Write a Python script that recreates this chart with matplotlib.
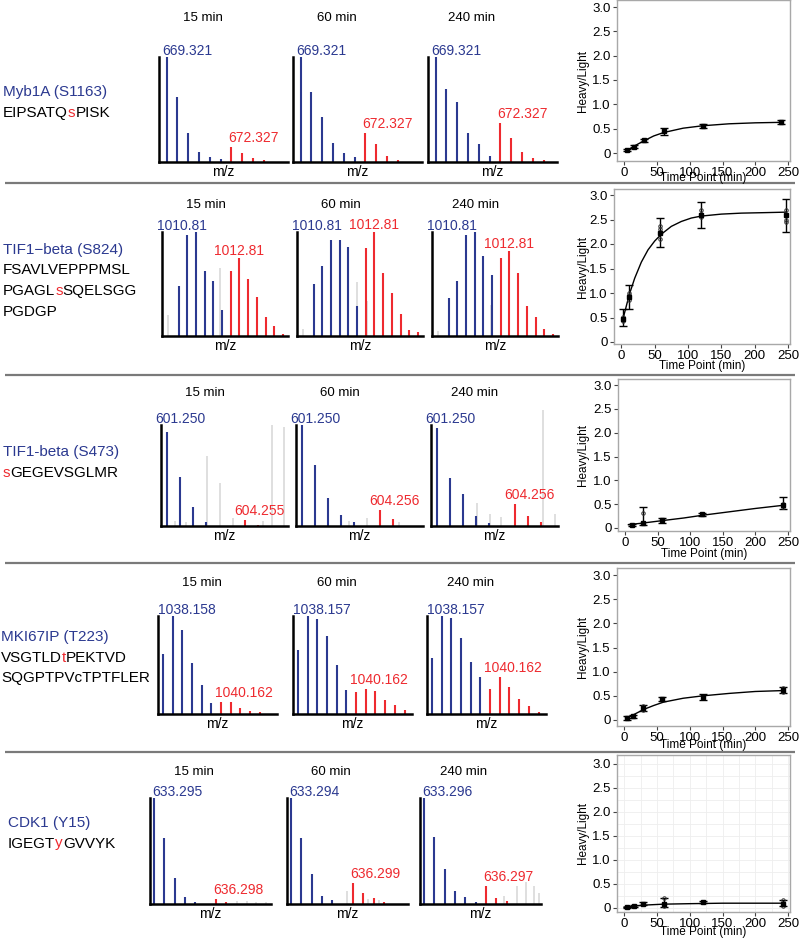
import numpy as np
import matplotlib
matplotlib.use('Agg')
import matplotlib.pyplot as plt

W, H = 800, 941
BLUE = '#2b3990'
RED = '#ee2a2f'
GRAY = '#d9d9d9'

plt.rcParams['font.family'] = 'Liberation Sans'

# ---------------- data ----------------
names = ['Myb1A (S1163)', 'TIF1\u2212beta (S824)', 'TIF1-beta (S473)',
         'MKI67IP (T223)', 'CDK1 (Y15)']
# peptide lines: (text, colour) pieces, phospho site in red
sequences = [
    [[('EIPSATQ', 'black'), ('s', RED), ('PISK', 'black')]],
    [[('FSAVLVEPPPMSL', 'black')],
     [('PGAGL', 'black'), ('s', RED), ('SQELSGG', 'black')],
     [('PGDGP', 'black')]],
    [[('s', RED), ('GEGEVSGLMR', 'black')]],
    [[('VSGTLD', 'black'), ('t', RED), ('PEKTVD', 'black')],
     [('SQGPTPVcTPTFLER', 'black')]],
    [[('IGEGT', 'black'), ('y', RED), ('GVVYK', 'black')]],
]
time_labels = ['15 min', '60 min', '240 min']
light_mz = [['669.321', '669.321', '669.321'],
            ['1010.81', '1010.81', '1010.81'],
            ['601.250', '601.250', '601.250'],
            ['1038.158', '1038.157', '1038.157'],
            ['633.295', '633.294', '633.296']]
heavy_mz = [['672.327', '672.327', '672.327'],
            ['1012.81', '1012.81', '1012.81'],
            ['604.255', '604.256', '604.256'],
            ['1040.162', '1040.162', '1040.162'],
            ['636.298', '636.299', '636.297']]

# isotope envelope intensities (relative), one list per time point
light_peaks = [
    [[1.0, 0.62, 0.28, 0.10, 0.05, 0.03], [1.0, 0.67, 0.43, 0.18, 0.09, 0.045],
     [1.0, 0.70, 0.57, 0.28, 0.17, 0.06]],
    [[0.48, 0.97, 1.0, 0.625, 0.53, 0.25], [0.50, 0.67, 0.92, 0.92, 0.86, 0.29],
     [0.37, 0.53, 0.97, 1.0, 0.77, 0.59]],
    [[0.93, 0.49, 0.19, 0.04], [1.0, 0.60, 0.28, 0.11, 0.04],
     [0.97, 0.48, 0.32, 0.10, 0.03]],
    [[0.61, 1.0, 0.86, 0.52, 0.30, 0.11], [0.65, 1.0, 0.97, 0.80, 0.50, 0.24],
     [0.57, 1.0, 0.98, 0.78, 0.53, 0.38]],
    [[1.0, 0.62, 0.25, 0.07, 0.02], [1.0, 0.62, 0.28, 0.08, 0.035],
     [1.0, 0.63, 0.33, 0.12, 0.07, 0.02]],
]
heavy_peaks = [
    [[0.14, 0.09, 0.04, 0.02], [0.28, 0.17, 0.06, 0.02], [0.37, 0.23, 0.10, 0.04, 0.02]],
    [[0.625, 0.75, 0.55, 0.375, 0.18, 0.10, 0.02], [0.85, 1.0, 0.61, 0.41, 0.21, 0.055, 0.04],
     [0.75, 0.82, 0.61, 0.29, 0.18, 0.07, 0.02]],
    [[0.06, 0.01], [0.16, 0.07], [0.22, 0.10, 0.04]],
    [[0.12, 0.12, 0.06, 0.03, 0.02], [0.22, 0.26, 0.23, 0.14, 0.09, 0.04],
     [0.26, 0.38, 0.28, 0.15, 0.085, 0.025]],
    [[0.05, 0.02], [0.20, 0.10, 0.06, 0.02], [0.17, 0.06, 0.03]],
]
heavy_offset = 6  # heavy envelope starts 6 isotope steps after light
# unassigned (grey) peaks: (position, intensity)
other_peaks = [
    [[], [], []],
    [[(-1.2, 0.2), (4.8, 0.65)], [(-1.2, 0.07), (4.95, 0.52), (6.2, 0.34)],
     [(-1.2, 0.05), (4.9, 0.3)]],
    [[(0.64, 0.05), (1.5, 0.04), (3.1, 0.69), (4.1, 0.43), (5.05, 0.08), (7.4, 0.05),
      (8.1, 1.0), (9.0, 0.98)],
     [(3.6, 0.05), (5.0, 0.08), (7.5, 0.04)],
     [(3.06, 0.23), (4.08, 0.12), (4.9, 0.09), (8.2, 1.15), (9.1, 0.12)]],
    [[], [], []],
    [[(8.0, 0.03), (9.0, 0.03), (9.9, 0.02), (10.9, 0.02)],
     [(5.45, 0.12), (7.5, 0.05), (8.5, 0.04)],
     [(7.8, 0.08), (8.97, 0.17), (9.9, 0.21), (10.7, 0.17), (11.2, 0.10)]],
]

# Heavy/Light time course
time_pts = [[5, 15, 30, 60, 120, 240],
            [3, 12, 58, 120, 247],
            [10, 27, 57, 118, 243],
            [4, 14, 28, 58, 120, 243],
            [5, 15, 28, 60, 120, 243]]
ratio_mean = [[0.07, 0.13, 0.26, 0.45, 0.56, 0.63],
              [0.47, 0.92, 2.23, 2.59, 2.6],
              [0.07, 0.11, 0.16, 0.29, 0.48],
              [0.05, 0.08, 0.25, 0.43, 0.47, 0.62],
              [0.02, 0.04, 0.09, 0.09, 0.12, 0.09]]
ratio_lo = [[0.02, 0.03, 0.03, 0.07, 0.04, 0.04],
            [0.15, 0.24, 0.30, 0.27, 0.36],
            [0.02, 0.04, 0.06, 0.03, 0.08],
            [0.04, 0.03, 0.07, 0.04, 0.06, 0.07],
            [0.01, 0.02, 0.03, 0.06, 0.02, 0.05]]
ratio_hi = [[0.02, 0.03, 0.03, 0.07, 0.04, 0.04],
            [0.20, 0.24, 0.31, 0.26, 0.32],
            [0.02, 0.34, 0.06, 0.03, 0.17],
            [0.04, 0.03, 0.07, 0.04, 0.06, 0.07],
            [0.01, 0.02, 0.03, 0.11, 0.02, 0.08]]
replicates = [[],
              [(3, 0.45), (3, 0.52), (3, 0.42), (12, 0.85), (12, 1.0), (12, 0.95),
               (58, 2.1), (58, 2.3), (58, 2.36), (120, 2.55), (120, 2.7), (120, 2.62),
               (247, 2.7), (247, 2.5), (247, 2.45)],
              [(27, 0.32), (243, 0.45), (243, 0.5)],
              [(28, 0.3), (28, 0.2), (243, 0.66), (243, 0.58)],
              [(60, 0.2), (60, 0.05), (243, 0.17), (243, 0.05)]]
fit_t = [[5, 15, 30, 45, 60, 90, 120, 160, 200, 240],
         [3, 12, 20, 30, 40, 50, 60, 75, 90, 105, 120, 150, 180, 215, 247],
         [5, 25, 60, 90, 120, 160, 200, 245],
         [2, 10, 20, 30, 45, 60, 90, 120, 160, 200, 245],
         [0, 15, 30, 60, 100, 150, 245]]
fit_y = [[0.06, 0.14, 0.25, 0.35, 0.42, 0.51, 0.56, 0.60, 0.62, 0.63],
         [0.5, 0.97, 1.3, 1.63, 1.88, 2.06, 2.2, 2.36, 2.46, 2.53, 2.57, 2.61, 2.63, 2.64, 2.65],
         [0.07, 0.10, 0.16, 0.21, 0.27, 0.34, 0.41, 0.48],
         [0.04, 0.08, 0.15, 0.22, 0.30, 0.37, 0.45, 0.50, 0.55, 0.59, 0.61],
         [0.02, 0.04, 0.06, 0.08, 0.09, 0.10, 0.10]]

# ---------------- layout (pixels) ----------------
sep_y = [183, 375, 563, 752]
name_xy = [(3, 92), (3, 250), (3, 452), (1, 637), (8, 823)]
line_gap = 20.5
title_y = [18, 205, 393, 583, 772]
spec_top = [57, 232, 425, 616, 798]
spec_bottom = [162, 336, 526, 714, 904]
spec_left = [[159, 293, 428], [162, 297, 432], [161, 296, 431], [158, 293, 427], [150, 287, 420]]
spec_width = [129, 126, 127, 119, 121]
peak_step = [10.8, 8.7, 13.0, 9.7, 10.3]
first_off = [0.7, 1.9, 0.45, 0.5, 0.4]
light_dx = [3, -5, -6, 0, 2]
heavy_dx = [-3, 0, -11, -6, -3]
# scatter box: left, top, right, bottom, pixel of y=0, pixel of y=3
box = [(617, 0, 790, 161, 153, 7), (614, 189, 790, 344, 342, 195),
       (618, 379, 790, 531, 528, 385), (617, 568, 790, 726, 720, 575),
       (617, 755, 790, 912, 908, 764)]
xlab_off = [17, 22, 23, 19, 20]

fig = plt.figure(figsize=(W / 100, H / 100), dpi=100)
bg = fig.add_axes([0, 0, 1, 1])
bg.set_xlim(0, W)
bg.set_ylim(H, 0)
bg.axis('off')


def px_axes(l, t, r, b):
    return fig.add_axes([l / W, 1 - b / H, (r - l) / W, (b - t) / H])


def colored_line(x, y, parts, size=11):
    t = bg.text(x, y, parts[0][0], color=parts[0][1], fontsize=size, ha='left', va='center')
    for s, c in parts[1:]:
        t = bg.annotate(s, xy=(1, 0), xycoords=t, ha='left', va='bottom', color=c, fontsize=size)


bg.hlines(sep_y, 5, 795, color='#7a7a7a', lw=1.6)

PT = 0.72  # points per pixel
for i in range(5):
    nx, ny = name_xy[i]
    bg.text(nx, ny, names[i], color=BLUE, fontsize=11, ha='left', va='center')
    for k, line in enumerate(sequences[i]):
        colored_line(nx, ny + line_gap * (k + 1), line)

    for j in range(3):
        l = spec_left[i][j]
        w = spec_width[i]
        bg.text(l + 44, title_y[i], time_labels[j], fontsize=9.5, ha='center', va='center')
        bg.text(l + w / 2, spec_bottom[i] + 10, 'm/z', fontsize=10, ha='center', va='center')

        ax = px_axes(l, spec_top[i], l + w, spec_bottom[i])
        ax.set_facecolor('none')
        off = first_off[i]
        ax.set_xlim(-off, w / peak_step[i] - off)
        ax.set_ylim(0, 1)
        if other_peaks[i][j]:
            gp, gh = zip(*other_peaks[i][j])
            ax.vlines(gp, 0, gh, color=GRAY, lw=1.2, clip_on=False)
        lp = light_peaks[i][j]
        hp = heavy_peaks[i][j]
        ax.vlines(np.arange(len(lp)), 0, lp, color=BLUE, lw=1.5, clip_on=False)
        hx = np.arange(len(hp)) + heavy_offset
        ax.vlines(hx, 0, hp, color=RED, lw=1.5, clip_on=False)
        for s in ['top', 'right']:
            ax.spines[s].set_visible(False)
        for s in ['left', 'bottom']:
            ax.spines[s].set_linewidth(1.8)
            ax.spines[s].set_color('black')
        ax.set_xticks([])
        ax.set_yticks([])

        ax.annotate(light_mz[i][j], xy=(0, 1), xycoords='axes fraction',
                    xytext=(light_dx[i] * PT, 1.5), textcoords='offset points',
                    ha='left', va='baseline', color=BLUE, fontsize=10)
        hmax = max(hp)
        if i == 1:
            ax.annotate(heavy_mz[i][j], xy=(hx[int(np.argmax(hp))], hmax),
                        xytext=(0, 2), textcoords='offset points',
                        ha='center', va='baseline', color=RED, fontsize=10)
        else:
            ax.annotate(heavy_mz[i][j], xy=(hx[0], hmax),
                        xytext=(heavy_dx[i] * PT, 3.5), textcoords='offset points',
                        ha='left', va='baseline', color=RED, fontsize=10)

    # Heavy/Light time course
    bl, bt, br, bb, y0, y3 = box[i]
    sx = px_axes(bl, bt, br, bb)
    ppu = (y0 - y3) / 3.0
    sx.set_xlim(-11, 253)
    sx.set_ylim(-(bb - y0) / ppu, 3 + (y3 - bt) / ppu)
    for s in sx.spines.values():
        s.set_color('#a8a8a8')
        s.set_linewidth(1.0)
    if i == 4:
        sx.set_xticks(np.arange(0, 251, 25), minor=True)
        sx.set_yticks(np.arange(0, 3.01, 0.25), minor=True)
        sx.grid(True, which='both', color='#eeeeee', lw=0.6)
        sx.set_axisbelow(True)
    sx.set_xticks(np.arange(0, 251, 50))
    sx.set_yticks(np.arange(0, 3.01, 0.5))
    sx.set_yticklabels(['0', '0.5', '1.0', '1.5', '2.0', '2.5', '3.0'])
    sx.tick_params(axis='both', which='major', direction='out', length=3, width=0.8,
                   color='#444444', labelsize=9.5, pad=1.5)
    sx.tick_params(axis='both', which='minor', length=0)
    sx.plot(fit_t[i], fit_y[i], color='black', lw=1.0)
    sx.errorbar(time_pts[i], ratio_mean[i], yerr=[ratio_lo[i], ratio_hi[i]], fmt='s', ms=3,
                color='black', ecolor='black', elinewidth=1.0, capsize=3, capthick=1.0)
    if replicates[i]:
        rt, rv = zip(*replicates[i])
        sx.plot(rt, rv, 'o', ms=2.5, mfc='none', mec='#333333', mew=0.7)
    sx.set_xlabel('Time Point (min)', fontsize=8.5)
    sx.xaxis.set_label_coords(0.5, -xlab_off[i] / (bb - bt))
    sx.xaxis.label.set_va('center')
    sx.set_ylabel('Heavy/Light', fontsize=8.5)
    sx.yaxis.set_label_coords(-(bl - 583) / (br - bl), 0.5)
    sx.yaxis.label.set_va('center')

fig.savefig('out.png', dpi=100)
